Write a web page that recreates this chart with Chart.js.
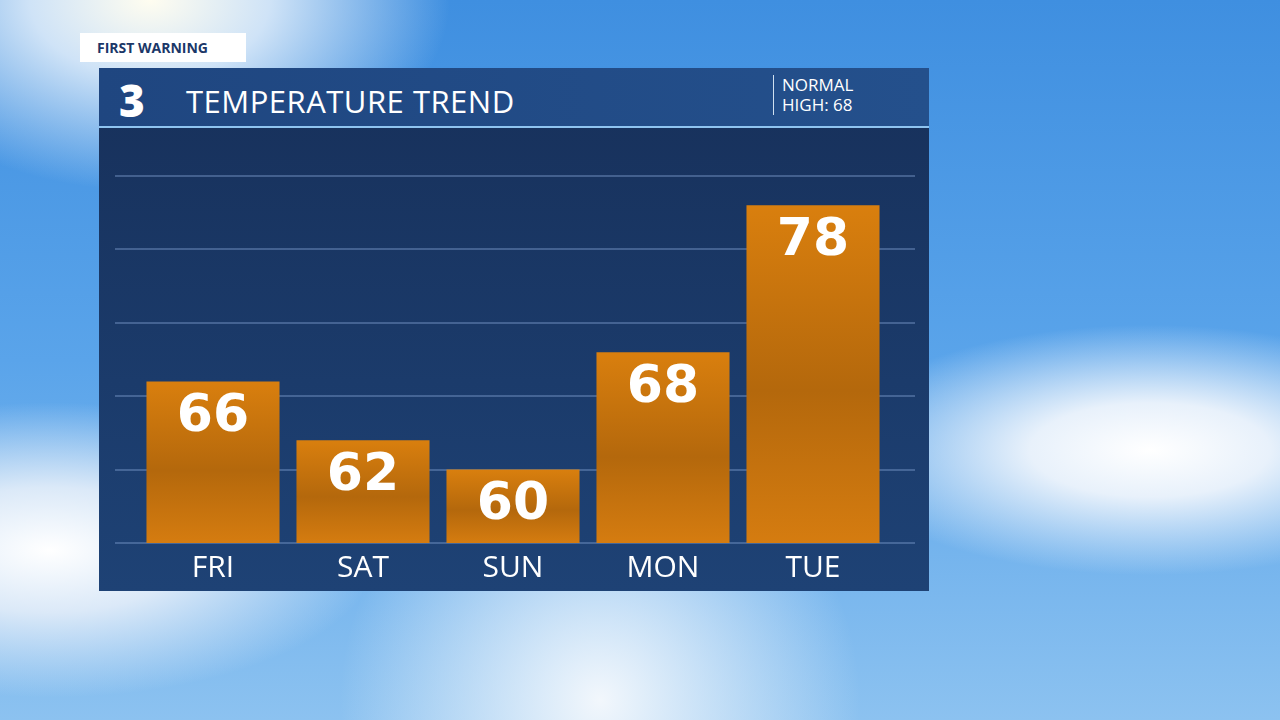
<!DOCTYPE html>
<html><head><meta charset="utf-8">
<script src="https://cdn.jsdelivr.net/npm/chart.js@4"></script>
<style>
body{margin:0;width:1280px;height:720px;overflow:hidden;font-family:"Open Sans",Lato,sans-serif;
background:radial-gradient(ellipse at 1150px 450px,#ffffff 0,#e8f1fb 120px,rgba(200,225,250,0) 320px),
radial-gradient(ellipse at 50px 550px,#ffffff 0,#dbe9f8 140px,rgba(200,225,250,0) 330px),
radial-gradient(ellipse at 150px 0px,#fffdf0 0,#cfe3f7 120px,rgba(200,225,250,0) 300px),
radial-gradient(ellipse at 600px 700px,#f2f7fc 0,rgba(220,235,250,0) 260px),
linear-gradient(180deg,#3f8fe0 0%,#5aa4ea 50%,#8cc2f0 100%);}
#tab{position:absolute;left:80px;top:33px;width:166px;height:29px;background:#fff;color:#1b3768;font-weight:700;font-size:14px;line-height:29px;padding-left:17px;box-sizing:border-box}
#panel{position:absolute;left:99px;top:68px;width:830px;height:523px;background:linear-gradient(180deg,#17305a,#1b3b6b 60%,#1e4275)}
#head{position:absolute;left:0;top:0;width:830px;height:58px;background:linear-gradient(90deg,#1f4680,#24508c);border-bottom:2px solid #8fc4f0}
#logo{position:absolute;left:20px;top:2px;color:#fff;font-weight:800;font-size:44px;font-family:"Open Sans"}
#title{position:absolute;left:87px;top:12px;color:#fff;font-size:31px;letter-spacing:.5px}
#norm{position:absolute;left:674px;top:7px;border-left:1px solid #cfe0f0;padding-left:8px;color:#fff;font-size:17px;line-height:20px}
canvas{position:absolute;left:0;top:0}
</style></head><body>
<div id="tab">FIRST WARNING</div>
<div id="panel"><div id="head"><div id="logo">3</div><div id="title">TEMPERATURE TREND</div><div id="norm">NORMAL<br>HIGH: 68</div></div></div>
<canvas id="c" width="1280" height="720" style="width:1280px;height:720px"></canvas>
<script>
const days=["FRI","SAT","SUN","MON","TUE"];
const highs=[66,62,60,68,78];
const yMin=55,yMax=80,yStep=5;
const grid={id:'grid',beforeDatasetsDraw(ch){const c=ch.ctx,y=ch.scales.y,a=ch.chartArea;c.save();c.strokeStyle='rgba(120,150,200,0.45)';c.lineWidth=2;
for(let v=yMin;v<=yMax;v+=yStep){const p=Math.round(y.getPixelForValue(v));c.beginPath();c.moveTo(a.left-23,p);c.lineTo(a.right+27,p);c.stroke();}c.restore();}};
const labels={id:'labels',afterDatasetsDraw(ch){const c=ch.ctx;c.save();c.fillStyle='#fff';c.textAlign='center';
ch.getDatasetMeta(0).data.forEach((b,i)=>{c.font='bold 52px "DejaVu Sans"';c.textBaseline='middle';c.fillText(highs[i],b.x,b.y+36);
c.font='30px "Open Sans"';c.fillText(days[i],b.x,568);});c.restore();}};
new Chart(document.getElementById('c'),{type:'bar',
data:{labels:days,datasets:[{data:highs,borderWidth:0,barPercentage:0.887,categoryPercentage:1,
backgroundColor(ctx){const ch=ctx.chart;if(!ch.chartArea)return '#d07a10';const y=ch.scales.y;const t=y.getPixelForValue(ctx.raw),b=y.getPixelForValue(yMin);
const g=ch.ctx.createLinearGradient(0,t,0,b);g.addColorStop(0,'#d97f0e');g.addColorStop(0.55,'#b4680c');g.addColorStop(1,'#d57c10');return g;}}]},
options:{responsive:false,animation:false,devicePixelRatio:1,
layout:{padding:{left:138,right:1280-888,top:176,bottom:720-543}},
plugins:{legend:{display:false},tooltip:{enabled:false}},
scales:{x:{display:false},y:{display:false,min:yMin,max:yMax}}},
plugins:[grid,labels]});
</script>
</body></html>
